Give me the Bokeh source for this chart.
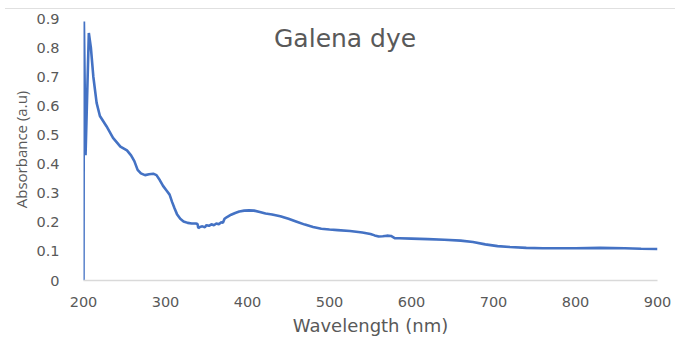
from bokeh.plotting import figure
from bokeh.models import Range1d, Label, FixedTicker, Div
from bokeh.layouts import column
from bokeh.embed import file_html
from bokeh.resources import INLINE

# Data
wavelength = [200, 200.5, 202.5, 206.5, 209, 212, 216, 220, 228, 236, 245, 253, 258, 262, 266,
              270, 275, 280, 285, 289, 293, 297, 301, 305, 308, 311, 314, 318, 322, 327, 332,
              337, 339, 340, 342, 345, 348, 350, 353, 356, 359, 362, 365, 368, 370, 372, 375,
              380, 385, 390, 396, 402, 408, 415, 422, 430, 440, 450, 460, 470, 480, 490, 500,
              510, 525, 540, 550, 555, 560, 565, 570, 575, 580, 585, 600, 620, 640, 660, 675,
              690, 705, 720, 740, 760, 780, 800, 830, 860, 880, 900]
absorbance = [0.0, 0.89, 0.43, 0.85, 0.80, 0.70, 0.61, 0.565, 0.53, 0.49, 0.46, 0.447, 0.43, 0.41, 0.38,
              0.368, 0.362, 0.365, 0.367, 0.362, 0.345, 0.325, 0.31, 0.295, 0.27, 0.248, 0.228, 0.212, 0.203, 0.198, 0.196,
              0.196, 0.194, 0.18, 0.184, 0.186, 0.183, 0.19, 0.188, 0.193, 0.19, 0.196, 0.193, 0.2, 0.198, 0.212, 0.218,
              0.226, 0.232, 0.237, 0.24, 0.241, 0.24, 0.235, 0.23, 0.227, 0.221, 0.212, 0.202, 0.192, 0.184, 0.178, 0.175,
              0.173, 0.17, 0.165, 0.16, 0.155, 0.151, 0.152, 0.154, 0.153, 0.145, 0.145, 0.144, 0.142, 0.14, 0.137, 0.132,
              0.124, 0.118, 0.115, 0.112, 0.111, 0.111, 0.111, 0.112, 0.111, 0.109, 0.108]
x_ticks = [200, 300, 400, 500, 600, 700, 800, 900]
y_ticks = [0, 0.1, 0.2, 0.3, 0.4, 0.5, 0.6, 0.7, 0.8, 0.9]
title_text = "Galena dye"
x_label = "Wavelength (nm)"
y_label = "Absorbance (a.u)"

FONT = "DejaVu Sans"
GRAY = "#595959"

# thin light rule at the very top of the original image
top_rule = Div(text="", width=670, height=8, margin=(0, 0, 0, 5),
               styles={"border-bottom": "1.5px solid #e0e0e0", "box-sizing": "content-box"})

p = figure(width=675, height=330, output_backend="svg", toolbar_location=None,
           x_range=Range1d(200, 900), y_range=Range1d(0, 0.9),
           min_border_left=83, min_border_right=18, min_border_top=9, min_border_bottom=59)
p.outline_line_color = None
p.background_fill_color = "white"
p.border_fill_color = "white"
p.xgrid.grid_line_color = None
p.ygrid.grid_line_color = None

p.line(wavelength, absorbance, line_color="#4472C4", line_width=2.6)

# axes
p.xaxis.ticker = FixedTicker(ticks=x_ticks)
p.yaxis.ticker = FixedTicker(ticks=y_ticks)
p.yaxis.major_label_overrides = {0: "0"}
for ax in (p.xaxis, p.yaxis):
    ax.major_tick_line_color = None
    ax.minor_tick_line_color = None
    ax.major_label_text_font = FONT
    ax.major_label_text_font_size = "14.5px"
    ax.major_label_text_color = GRAY
    ax.axis_label_text_font = FONT
    ax.axis_label_text_color = GRAY
    ax.axis_label_text_font_style = "normal"
p.yaxis.axis_line_color = None
p.xaxis.axis_line_color = "#d9d9d9"
p.xaxis.axis_line_width = 1.5
p.xaxis.major_label_standoff = 10
p.yaxis.major_label_standoff = 18
p.xaxis.axis_label = x_label
p.xaxis.axis_label_text_font_size = "18px"
p.xaxis.axis_label_standoff = 5
p.yaxis.axis_label = y_label
p.yaxis.axis_label_text_font = "Open Sans"
p.yaxis.axis_label_text_font_size = "15px"
p.yaxis.axis_label_standoff = 2

# title inside plot area
p.add_layout(Label(x=519, y=0.83, text=title_text, text_font=FONT, text_font_size="25px",
                   text_color=GRAY, text_align="center", text_baseline="middle"))

layout = column(top_rule, p, spacing=0)
open("out.html", "w").write(file_html(layout, INLINE))
